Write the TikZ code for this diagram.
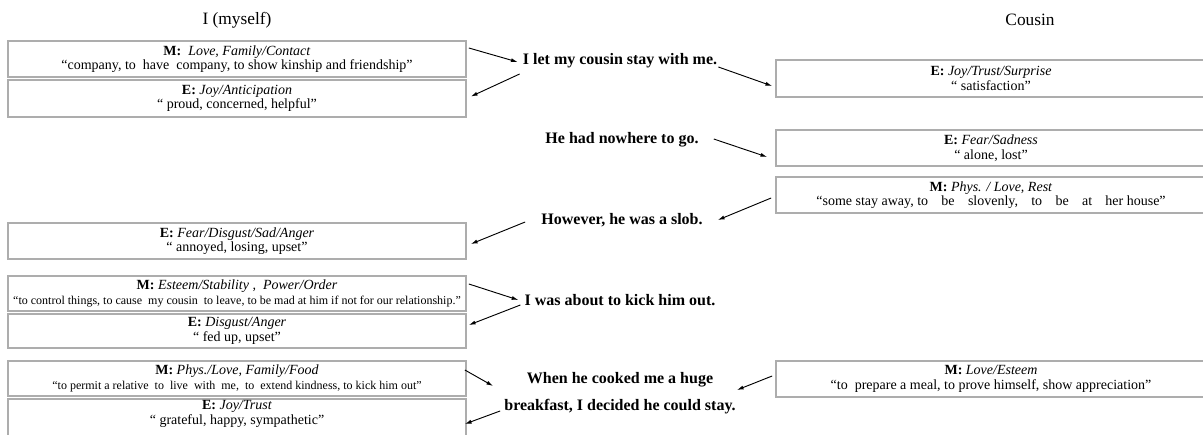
\documentclass[tikz,border=0pt]{standalone}
\usepackage{fontspec}
\setmainfont{Liberation Serif}
\usetikzlibrary{arrows.meta,calc}
\definecolor{boxgray}{HTML}{ADADAD}
\begin{document}
\begin{tikzpicture}[x=0.75pt,y=-0.75pt,
  lbox/.style={draw=boxgray, line width=1.3pt, minimum width=343.5pt, inner sep=0pt,
    align=center, font=\fontsize{10.5}{11}\selectfont},
  cbox/.style={lbox, minimum width=322.5pt},
  sent/.style={inner sep=0pt, align=center, font=\bfseries\fontsize{12}{20.25}\selectfont},
  ttl/.style={inner sep=0pt, font=\fontsize{13}{15}\selectfont},
  arr/.style={-{Latex[length=5pt,width=3pt]}, line width=0.7pt}]
\useasboundingbox (0,0) rectangle (1203,435);

% titles
\node[ttl] (tme) at (237,20) {I (myself)};
\node[ttl] (tcou) at (1030,20) {Cousin};

% left column
\node[lbox, minimum height=27.5pt] (m1) at (237,59)
  {\textbf{M:}\ \ \textit{Love, Family/Contact}\\ “company, to\ \ have\ \ company, to show kinship and friendship”};
\node[lbox, minimum height=27.5pt] (e1) at (237,98.5)
  {\textbf{E:} \textit{Joy/Anticipation}\\ “ proud, concerned, helpful”};
\node[lbox, minimum height=27pt] (e2) at (237,241)
  {\textbf{E:} \textit{Fear/Disgust/Sad/Anger}\\ “ annoyed, losing, upset”};
\node[lbox, minimum height=26.5pt] (m3) at (237,293.5)
  {\textbf{M:} \textit{Esteem/Stability ,\ \ Power/Order}\\ {\fontsize{9}{11}\selectfont “to control things, to cause\ \ my cousin\ \ to leave, to be mad at him if not for our relationship.”}};
\node[lbox, minimum height=26pt] (e3) at (237,331)
  {\textbf{E:} \textit{Disgust/Anger}\\ “ fed up, upset”};
\node[lbox, minimum height=26.5pt] (m4) at (237,378.5)
  {\textbf{M:} \textit{Phys./Love, Family/Food}\\ {\fontsize{9}{11}\selectfont “to permit a relative\ \ to\ \ live\ \ with\ \ me,\ \ to\ \ extend kindness, to kick him out”}};
\node[lbox, minimum height=28.5pt] (e4) at (237,418)
  {\textbf{E:} \textit{Joy/Trust}\\ “ grateful, happy, sympathetic”\\[-3pt]\mbox{}};

% cousin column
\node[cbox, minimum height=27.75pt] (c1) at (991,78.5)
  {\textbf{E:} \textit{Joy/Trust/Surprise}\\ “ satisfaction”};
\node[cbox, minimum height=27pt] (c2) at (991,148)
  {\textbf{E:} \textit{Fear/Sadness}\\ “ alone, lost”};
\node[cbox, minimum height=27pt] (c3) at (991,195)
  {\textbf{M:} \textit{Phys. / Love, Rest}\\ “some stay away, to\hspace{0.95em}be\hspace{0.95em}slovenly,\hspace{0.95em}to\hspace{0.95em}be\hspace{0.95em}at\hspace{0.95em}her house”};
\node[cbox, minimum height=27pt] (c4) at (991,379)
  {\textbf{M:} \textit{Love/Esteem}\\ “to\ \ prepare a meal, to prove himself, show appreciation”};

% sentences
\node[sent] (s1) at (620,61) {I let my cousin stay with me.};
\node[sent] (s2) at (622,140) {He had nowhere to go.};
\node[sent] (s3) at (622,220) {However, he was a slob.};
\node[sent] (s4) at (620,300) {I was about to kick him out.};
\node[sent] (s5) at (620,393.5) {When he cooked me a huge\\ breakfast, I decided he could stay.};

% arrows
\draw[arr] ($(m1.east)+(2,-11)$) -- ($(s1.west)+(-5,1)$);
\draw[arr] ($(s1.west)+(-3,13)$) -- ($(e1.east)+(4,-2)$);
\draw[arr] ($(s1.east)+(1,6)$) -- ($(c1.west)+(-3,7.5)$);
\draw[arr] ($(s2.east)+(15,-1)$) -- ($(c2.west)+(-8,9)$);
\draw[arr] ($(c3.west)+(-4,3)$) -- ($(s3.east)+(15,0)$);
\draw[arr] ($(s3.west)+(-16,2)$) -- ($(e2.east)+(4,3)$);
\draw[arr] ($(m3.east)+(2,-9.5)$) -- ($(s4.west)+(-6,0)$);
\draw[arr] ($(s4.west)+(-4,5)$) -- ($(e3.east)+(2,-6)$);
\draw[arr] ($(m4.east)+(-2,-8.5)$) -- ($(s5.west)+(-11,-7.5)$);
\draw[arr] ($(s5.west)+(-4,17.5)$) -- ($(e4.east)+(-2,6)$);
\draw[arr] ($(c4.west)+(-3,-3)$) -- ($(s5.east)+(1,-3.5)$);
\end{tikzpicture}
\end{document}
